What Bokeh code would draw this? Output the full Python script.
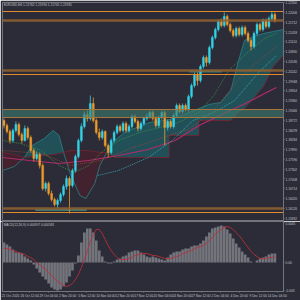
from bokeh.plotting import figure
from bokeh.layouts import column
from bokeh.models import Range1d, FixedTicker, Span, BoxAnnotation, Label, NumeralTickFormatter
from bokeh.embed import file_html
from bokeh.resources import INLINE

# ---------------- data ----------------
opens = [1.1876,1.1861,1.1843,1.1816,1.1846,1.1864,1.1834,1.1816,1.1852,1.1825,
         1.1786,1.1762,1.1774,1.1741,1.1672,1.1687,1.1657,1.1639,1.1624,1.1636,
         1.1654,1.1678,1.1702,1.1681,1.1726,1.1768,1.1816,1.1858,1.1894,1.1882,
         1.1927,1.1876,1.1840,1.1825,1.1843,1.1801,1.1780,1.1816,1.1840,1.1858,
         1.1846,1.1867,1.1846,1.1858,1.1888,1.1873,1.1852,1.1867,1.1882,1.1888,
         1.1900,1.1882,1.1861,1.1885,1.1900,1.1855,1.1873,1.1858,1.1891,1.1921,
         1.1903,1.1921,1.1909,1.1948,1.1981,1.2014,1.1996,1.2038,1.2065,1.2050,
         1.2095,1.2125,1.2149,1.2173,1.2161,1.2188,1.2164,1.2146,1.2131,1.2152,
         1.2134,1.2155,1.2137,1.2116,1.2098,1.2137,1.2164,1.2149,1.2176,1.2158,
         1.2182,1.2194]
closes = [1.1861,1.1843,1.1816,1.1846,1.1864,1.1834,1.1816,1.1852,1.1825,1.1786,
          1.1762,1.1774,1.1741,1.1672,1.1687,1.1657,1.1639,1.1624,1.1636,1.1654,
          1.1678,1.1702,1.1681,1.1726,1.1768,1.1816,1.1858,1.1894,1.1882,1.1927,
          1.1876,1.1840,1.1825,1.1843,1.1801,1.1780,1.1816,1.1840,1.1858,1.1846,
          1.1867,1.1846,1.1858,1.1888,1.1873,1.1852,1.1867,1.1882,1.1888,1.1900,
          1.1882,1.1861,1.1885,1.1900,1.1855,1.1873,1.1858,1.1891,1.1921,1.1903,
          1.1921,1.1909,1.1948,1.1981,1.2014,1.1996,1.2038,1.2065,1.2050,1.2095,
          1.2125,1.2149,1.2173,1.2161,1.2188,1.2164,1.2146,1.2131,1.2152,1.2134,
          1.2155,1.2137,1.2116,1.2098,1.2137,1.2164,1.2149,1.2176,1.2158,1.2182,
          1.2194,1.2176]
highs = [1.1882,1.1867,1.1849,1.1852,1.1873,1.1870,1.1840,1.1861,1.1858,1.1831,
         1.1792,1.1783,1.1780,1.1747,1.1693,1.1693,1.1666,1.1645,1.1642,1.1660,
         1.1684,1.1711,1.1708,1.1732,1.1774,1.1822,1.1867,1.1903,1.1906,1.1951,
         1.1945,1.1882,1.1852,1.1849,1.1846,1.1807,1.1822,1.1846,1.1864,1.1864,
         1.1873,1.1873,1.1864,1.1894,1.1894,1.1879,1.1873,1.1888,1.1897,1.1906,
         1.1906,1.1888,1.1891,1.1906,1.1906,1.1879,1.1879,1.1897,1.1927,1.1927,
         1.1927,1.1927,1.1954,1.1987,1.2020,1.2020,1.2044,1.2071,1.2071,1.2101,
         1.2131,1.2155,1.2179,1.2182,1.2200,1.2194,1.2170,1.2152,1.2158,1.2158,
         1.2161,1.2161,1.2143,1.2122,1.2143,1.2170,1.2170,1.2182,1.2182,1.2188,
         1.2203,1.2200]
lows = [1.1852,1.1837,1.1807,1.1810,1.1840,1.1828,1.1807,1.1813,1.1819,1.1780,
        1.1753,1.1756,1.1732,1.1666,1.1663,1.1651,1.1633,1.1618,1.1612,1.1630,
        1.1648,1.1669,1.1597,1.1675,1.1720,1.1762,1.1810,1.1852,1.1873,1.1876,
        1.1870,1.1834,1.1816,1.1819,1.1795,1.1765,1.1774,1.1810,1.1834,1.1840,
        1.1840,1.1840,1.1840,1.1852,1.1867,1.1843,1.1846,1.1861,1.1876,1.1882,
        1.1876,1.1855,1.1855,1.1879,1.1801,1.1846,1.1852,1.1852,1.1885,1.1897,
        1.1897,1.1903,1.1903,1.1942,1.1975,1.1981,1.1990,1.2032,1.2038,1.2044,
        1.2089,1.2119,1.2143,1.2155,1.2155,1.2158,1.2140,1.2125,1.2125,1.2128,
        1.2128,1.2131,1.2110,1.2086,1.2092,1.2131,1.2143,1.2143,1.2152,1.2152,
        1.2176,1.2170]

macd_hist = [0.0020,0.0018,0.0016,0.0013,0.0010,0.0010,0.0009,0.0006,0.0004,0.0002,
             -0.0002,-0.0006,-0.0010,-0.0014,-0.0017,-0.0021,-0.0025,-0.0027,-0.0028,-0.0027,
             -0.0024,-0.0020,-0.0014,-0.0008,-0.0001,0.0007,0.0020,0.0030,0.0034,0.0034,
             0.0030,0.0022,0.0012,0.0006,0.0001,-0.0001,-0.0001,0.0001,0.0003,0.0004,
             0.0006,0.0007,0.0010,0.0011,0.0012,0.0012,0.0010,0.0008,0.0006,0.0005,
             0.0006,0.0005,0.0004,0.0003,0.0002,0.0005,0.0008,0.0010,0.0011,0.0011,
             0.0013,0.0014,0.0014,0.0016,0.0017,0.0017,0.0019,0.0022,0.0026,0.0030,
             0.0034,0.0035,0.0036,0.0037,0.0036,0.0033,0.0029,0.0024,0.0019,0.0015,
             0.0011,0.0008,0.0005,0.0001,0.0000,0.0002,0.0004,0.0005,0.0006,0.0008,
             0.0009,0.0009]
macd_signal = [0.0014,0.0014,0.0013,0.0012,0.0011,0.0010,0.0009,0.0008,0.0006,0.0005,
               0.0003,0.0000,-0.0002,-0.0005,-0.0007,-0.0010,-0.0013,-0.0016,-0.0019,-0.0021,
               -0.0023,-0.0024,-0.0023,-0.0021,-0.0017,-0.0012,-0.0005,0.0003,0.0012,0.0021,
               0.0028,0.0033,0.0033,0.0029,0.0023,0.0017,0.0012,0.0008,0.0005,0.0003,
               0.0003,0.0003,0.0004,0.0005,0.0007,0.0008,0.0009,0.0009,0.0009,0.0008,
               0.0007,0.0007,0.0006,0.0005,0.0004,0.0004,0.0004,0.0005,0.0006,0.0007,
               0.0009,0.0010,0.0011,0.0012,0.0014,0.0015,0.0016,0.0017,0.0019,0.0022,
               0.0025,0.0028,0.0031,0.0033,0.0035,0.0036,0.0035,0.0033,0.0030,0.0027,
               0.0023,0.0019,0.0015,0.0011,0.0008,0.0006,0.0004,0.0004,0.0004,0.0005,
               0.0005,0.0006]

# moving averages (bar position, price)
ma_slow_x = [0, 9, 19, 29, 39, 49, 58, 66, 73, 78, 83, 88, 92]
ma_slow_y = [1.1765, 1.1756, 1.1747, 1.1756, 1.1771, 1.1789, 1.1816, 1.1861, 1.1891, 1.1912, 1.1933, 1.1957, 1.1975]
ma_green_x = [0, 6, 13, 19, 24, 29, 34, 39, 46, 53, 59, 66, 71, 76, 83, 88, 92]
ma_green_y = [1.1816, 1.1807, 1.1786, 1.1741, 1.1720, 1.1741, 1.1786, 1.1816, 1.1840, 1.1855, 1.1870, 1.1900, 1.1951, 1.2026, 1.2086, 1.2122, 1.2137]
ma_brown_x = [0, 13, 23, 33, 43, 53, 63, 71, 79, 86, 92]
ma_brown_y = [1.1786, 1.1777, 1.1741, 1.1756, 1.1792, 1.1822, 1.1852, 1.1906, 1.1996, 1.2056, 1.2098]
ma_teal_x = [32, 39, 49, 57, 64, 71, 78, 86, 92]
ma_teal_y = [1.1711, 1.1726, 1.1765, 1.1816, 1.1876, 1.1900, 1.1936, 1.2020, 1.2071]

# ichimoku cloud pieces (bar position, span A, span B)
bear1_x = [0, 4, 7.3]
bear1_a = [1.1726, 1.1738, 1.1765]
bear1_b = [1.1780, 1.1774, 1.1765]
bull1_x = [7.3, 10, 14, 17, 19, 20.5]
bull1_a = [1.1765, 1.1801, 1.1822, 1.1846, 1.1831, 1.1780]
bull1_b = [1.1765, 1.1768, 1.1771, 1.1774, 1.1777, 1.1780]
bear2_x = [20.5, 23, 26, 28, 31, 32.7, 35]
bear2_a = [1.1780, 1.1711, 1.1651, 1.1642, 1.1687, 1.1741, 1.1780]
bear2_b = [1.1780, 1.1786, 1.1786, 1.1786, 1.1783, 1.1780, 1.1780]
bull2_x = [35, 37.7, 41, 44.3, 49.3, 54.3, 56, 56.01, 59.3, 64.3, 66, 66.01, 69.3, 73.3, 76.7, 79.3, 81.3, 84.3, 87.7, 91, 94.4]
bull2_a = [1.1780, 1.1816, 1.1840, 1.1852, 1.1870, 1.1876, 1.1879, 1.1879, 1.1888, 1.1906, 1.1912,
           1.1912, 1.1924, 1.1930, 1.1966, 1.2056, 1.2116, 1.2128, 1.2137, 1.2143, 1.2149]
bull2_b = [1.1780, 1.1765, 1.1765, 1.1765, 1.1765, 1.1765, 1.1765, 1.1831, 1.1831, 1.1831, 1.1831,
           1.1876, 1.1876, 1.1876, 1.1876, 1.1900, 1.1912, 1.1942, 1.1978, 1.2038, 1.2071]

# horizontal levels
level_thin = [1.2203, 1.2014, 1.1600]
level_band = [1.2176, 1.2026, 1.1612]
zone_top, zone_bottom = 1.1909, 1.1885
tag_prices = [1.2203, 1.2176, 1.2026, 1.2014, 1.1909, 1.1885, 1.1612, 1.1600]
tag_texts = ["1.22030", "1.21760", "1.20260", "1.20140", "1.19090", "1.18850", "1.16120", "1.16000"]
box_left = [62.7, 11.0]
box_right = [73.7, 28.3]
box_bottom = [1.2020, 1.16045]
box_top = [1.2026, 1.16105]

price_ticks = [1.22300, 1.22006, 1.21712, 1.21418, 1.21124, 1.20830, 1.20536, 1.20242,
               1.19948, 1.19654, 1.19360, 1.19066, 1.18772, 1.18478, 1.18184, 1.17890,
               1.17596, 1.17302, 1.17008, 1.16714, 1.16420, 1.16126, 1.15832]
date_pos = [2.7, 9.1, 15.5, 21.9, 28.3, 34.7, 41.1, 47.5, 53.9, 60.3, 66.7, 73.1, 79.5, 85.9, 92.3]
date_labels = ["21 Oct 2020", "26 Oct 12:00", "29 Oct 04:00", "2 Nov 20:00", "5 Nov 12:00",
               "10 Nov 04:00", "12 Nov 20:00", "17 Nov 12:00", "20 Nov 04:00", "24 Nov 20:00",
               "27 Nov 12:00", "2 Dec 04:00", "4 Dec 20:00", "9 Dec 12:00", "14 Dec 04:00"]

# ---------------- style ----------------
BG = "#2b2c37"
EDGE = "#74747c"
TXT = "#c4c4cc"
UP = "#33d4e8"
DN = "#ec9b2e"
FONT = "Liberation Sans"

bar_x = [i + 0.5 for i in range(len(closes))]
colors = [UP if c >= o else DN for o, c in zip(opens, closes)]
body_top = [max(o, c) for o, c in zip(opens, closes)]
body_bot = [min(o, c) for o, c in zip(opens, closes)]


def style_axis(ax):
    ax.axis_line_color = EDGE
    ax.major_tick_line_color = EDGE
    ax.minor_tick_line_color = None
    ax.major_tick_out = 1
    ax.major_tick_in = 0
    ax.major_label_standoff = 1
    ax.major_label_text_font = FONT
    ax.major_label_text_font_size = "3.2px"
    ax.major_label_text_color = TXT


p = figure(width=300, height=221, x_range=Range1d(0, 94.4), y_range=Range1d(1.1576, 1.2230),
           output_backend="svg", toolbar_location=None, x_axis_location=None, y_axis_location="right",
           min_border_left=2, min_border_right=15, min_border_top=2, min_border_bottom=1,
           background_fill_color=BG, border_fill_color=BG, outline_line_color=EDGE)
p.grid.grid_line_color = None
style_axis(p.yaxis[0])
p.yaxis[0].ticker = FixedTicker(ticks=price_ticks)
p.yaxis[0].formatter = NumeralTickFormatter(format="0.00000")

# cloud
for xs, a, b, col in [(bear1_x, bear1_a, bear1_b, "#47202c"), (bull1_x, bull1_a, bull1_b, "#1f5a62"),
                      (bear2_x, bear2_a, bear2_b, "#47202c"), (bull2_x, bull2_a, bull2_b, "#1f5a62")]:
    p.varea(x=xs, y1=a, y2=b, fill_color=col, fill_alpha=0.8)
    p.line(xs, a, line_color="#2a8488", line_width=0.8)
    p.line(xs, b, line_color="#7a2230", line_width=0.8)

# moving averages
p.line(ma_slow_x, ma_slow_y, line_color="#b02c6a", line_width=1.2)
p.line(ma_brown_x, ma_brown_y, line_color="#9a4a3a", line_width=0.8, line_dash="1 1")
p.line(ma_green_x, ma_green_y, line_color="#3c9a4a", line_width=0.8, line_dash="1 1")
p.line(ma_teal_x, ma_teal_y, line_color="#40b8c8", line_width=0.8, line_dash="1 1")

# zones
p.add_layout(BoxAnnotation(bottom=zone_bottom, top=zone_top, fill_color="#3d7d70", fill_alpha=0.6, line_alpha=0))
p.quad(left=box_left, right=box_right, bottom=box_bottom, top=box_top, fill_color="#3f9a8e", fill_alpha=0.7, line_color=None)

# candles
p.segment(x0=bar_x, y0=lows, x1=bar_x, y1=highs, line_color=colors, line_width=0.8)
p.vbar(x=bar_x, width=0.65, top=body_top, bottom=body_bot, fill_color=colors, line_color=colors, line_width=0.4)

# levels
for lv in level_band:
    p.add_layout(Span(location=lv, dimension="width", line_color="#93622f", line_width=2.5, line_alpha=0.85))
for lv in level_thin:
    p.add_layout(Span(location=lv, dimension="width", line_color="#e08c2c", line_width=1))
for lv in (zone_top, zone_bottom):
    p.add_layout(Span(location=lv, dimension="width", line_color="#a8753a", line_width=1))

for yv, t in zip(tag_prices, tag_texts):
    p.add_layout(Label(x=285.5, x_units="screen", y=yv, text=t, text_font=FONT, text_font_size="3.2px",
                       text_color="#2a1a08", text_baseline="middle", text_align="left",
                       background_fill_color="#f0951c"))

p.add_layout(Label(x=0.4, y=1.2228, text="EURUSD,H4  1.21762 1.21990 1.21745 1.21935",
                   text_font=FONT, text_font_size="3.2px", text_color=TXT, text_baseline="top"))

# ---------------- MACD ----------------
m = figure(width=300, height=79, x_range=p.x_range, y_range=Range1d(-0.0029, 0.0041),
           output_backend="svg", toolbar_location=None, y_axis_location="right", x_axis_location="below",
           min_border_left=2, min_border_right=15, min_border_top=0, min_border_bottom=9,
           background_fill_color=BG, border_fill_color=BG, outline_line_color=EDGE)
m.grid.grid_line_color = None
style_axis(m.yaxis[0])
m.yaxis[0].ticker = FixedTicker(ticks=[0.0040, 0.0, -0.0028])
m.yaxis[0].major_label_overrides = {0.004: "0.0045", 0.0: "0.00", -0.0028: "-0.003"}
style_axis(m.xaxis[0])
m.xaxis[0].ticker = FixedTicker(ticks=date_pos)
m.xaxis[0].major_label_overrides = dict(zip(date_pos, date_labels))

m.vbar(x=bar_x, top=macd_hist, bottom=0, width=0.9, fill_color="#74747c", line_color=None)
m.line(bar_x, macd_signal, line_color="#b8303a", line_width=0.9)
m.add_layout(Label(x=0.4, y=0.0040, text="MACD(12,26,9) 0.000957 0.000581",
                   text_font=FONT, text_font_size="3.2px", text_color=TXT, text_baseline="top"))

layout = column(p, m, spacing=0)
open("out.html", "w").write(file_html(layout, INLINE))
